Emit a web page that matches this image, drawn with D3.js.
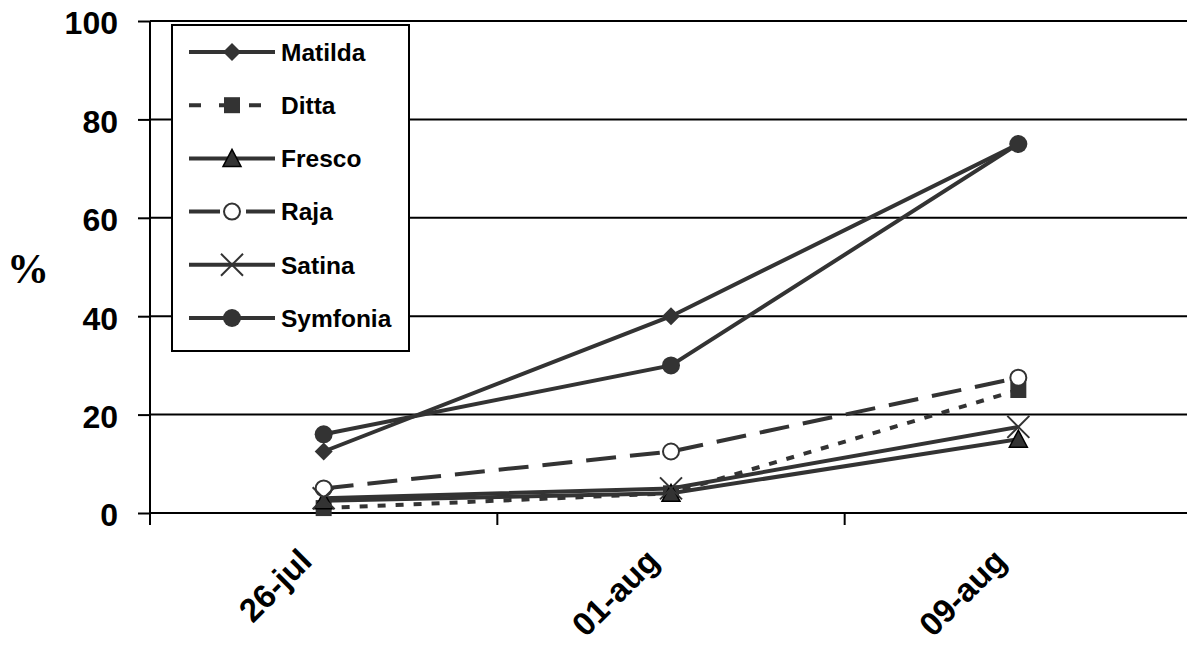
<!DOCTYPE html>
<html>
<head>
<meta charset="utf-8">
<script src="https://cdn.jsdelivr.net/npm/d3@7"></script>
<style>
  body { margin: 0; background: #fff; }
  svg { display: block; font-family: Arial, "Liberation Sans", sans-serif; }
</style>
</head>
<body>
<svg id="chart" width="1187" height="649"></svg>
<script>
// data
var dates = ['26-jul', '01-aug', '09-aug'];
var names = ['Matilda', 'Ditta', 'Fresco', 'Raja', 'Satina', 'Symfonia'];
var matilda = [12.5, 40, 75];
var ditta = [1, 4, 25];
var fresco = [2.5, 4, 15];
var raja = [5, 12.5, 27.5];
var satina = [3, 5, 17.5];
var symfonia = [16, 30, 75];
var yTicks = [0, 20, 40, 60, 80, 100];

var seriesVals = [matilda, ditta, fresco, raja, satina, symfonia];
var dashes = [null, '8,10', null, '30,14', null, null];
var legendDashes = [null, '12,18', null, '31,26', null, null];
var shapes = ['diamond', 'square', 'triangle', 'open', 'cross', 'circle'];

var ink = '#333';
var svg = d3.select('#chart');

var plotLeft = 150, plotRight = 1192, plotTop = 21, plotBottom = 513;

var x = d3.scaleBand().domain(dates).range([plotLeft, plotRight]);
var y = d3.scaleLinear().domain([0, 100]).range([plotBottom, plotTop]);

// gridlines
svg.append('g').selectAll('line')
  .data(yTicks.filter(function(d) { return d > 0; }))
  .enter().append('line')
  .attr('x1', plotLeft).attr('x2', plotRight)
  .attr('y1', function(d) { return y(d); })
  .attr('y2', function(d) { return y(d); })
  .attr('stroke', '#000').attr('stroke-width', 2);

// y axis
var yAxis = d3.axisLeft(y).tickValues(yTicks).tickSize(12).tickPadding(20);
var gy = svg.append('g').attr('transform', 'translate(' + plotLeft + ',0)').call(yAxis);
gy.select('.domain').attr('stroke', '#000').attr('stroke-width', 2)
  .attr('d', 'M0,' + plotTop + 'V' + plotBottom);
gy.selectAll('.tick line').attr('stroke', '#000').attr('stroke-width', 2);
gy.selectAll('.tick text')
  .attr('fill', '#000')
  .style('font-family', 'Arial, "Liberation Sans", sans-serif')
  .style('font-size', '32px').style('font-weight', 'bold')
  .attr('dy', '0.4em');

// x axis, ticks between categories
var bounds = dates.map(function(d) { return x(d); }).concat([plotRight]);
svg.append('line')
  .attr('x1', plotLeft).attr('x2', plotRight).attr('y1', plotBottom).attr('y2', plotBottom)
  .attr('stroke', '#000').attr('stroke-width', 2);
svg.append('g').selectAll('line').data(bounds).enter().append('line')
  .attr('x1', function(d) { return d; }).attr('x2', function(d) { return d; })
  .attr('y1', plotBottom).attr('y2', plotBottom + 12)
  .attr('stroke', '#000').attr('stroke-width', 2);

svg.append('g').selectAll('text').data(dates).enter().append('text')
  .attr('transform', function(d) {
    return 'translate(' + (x(d) + x.bandwidth() / 2 - 10) + ',' + (plotBottom + 50) + ') rotate(-45)';
  })
  .attr('text-anchor', 'end')
  .style('font-size', '33px').style('font-weight', 'bold')
  .text(function(d) { return d; });

// y title
svg.append('text')
  .attr('x', 28).attr('y', 283)
  .attr('text-anchor', 'middle')
  .style('font-family', '"Liberation Serif", "DejaVu Serif", serif')
  .style('font-size', '42px').style('font-weight', 'bold')
  .text('%');

function drawMarker(g, shape, cx, cy) {
  if (shape === 'diamond') {
    g.append('path').attr('d', 'M' + cx + ',' + (cy - 9) + 'L' + (cx + 9) + ',' + cy + 'L' + cx + ',' + (cy + 9) + 'L' + (cx - 9) + ',' + cy + 'Z')
      .attr('fill', ink);
  } else if (shape === 'square') {
    g.append('rect').attr('x', cx - 8).attr('y', cy - 8).attr('width', 16).attr('height', 16).attr('fill', ink);
  } else if (shape === 'triangle') {
    g.append('path').attr('d', 'M' + cx + ',' + (cy - 9) + 'L' + (cx + 9) + ',' + (cy + 8) + 'L' + (cx - 9) + ',' + (cy + 8) + 'Z')
      .attr('fill', ink).attr('stroke', '#000').attr('stroke-width', 1.5);
  } else if (shape === 'open') {
    g.append('circle').attr('cx', cx).attr('cy', cy).attr('r', 8).attr('fill', '#fff').attr('stroke', ink).attr('stroke-width', 2);
  } else if (shape === 'cross') {
    g.append('path').attr('d', 'M' + (cx - 11) + ',' + (cy - 11) + 'L' + (cx + 11) + ',' + (cy + 11) + 'M' + (cx + 11) + ',' + (cy - 11) + 'L' + (cx - 11) + ',' + (cy + 11))
      .attr('stroke', ink).attr('stroke-width', 2);
  } else {
    g.append('circle').attr('cx', cx).attr('cy', cy).attr('r', 9).attr('fill', ink);
  }
}

var line = d3.line()
  .x(function(d, i) { return x(dates[i]) + x.bandwidth() / 2; })
  .y(function(d) { return y(d); });

// lines, then markers
var plot = svg.append('g');
seriesVals.forEach(function(vals, s) {
  plot.append('path').attr('d', line(vals))
    .attr('fill', 'none').attr('stroke', ink).attr('stroke-width', 4)
    .attr('stroke-dasharray', dashes[s]);
});
seriesVals.forEach(function(vals, s) {
  vals.forEach(function(v, i) {
    drawMarker(plot, shapes[s], x(dates[i]) + x.bandwidth() / 2, y(v));
  });
});

// legend
var lg = svg.append('g');
lg.append('rect').attr('x', 172).attr('y', 25).attr('width', 237).attr('height', 326)
  .attr('fill', '#fff').attr('stroke', '#000').attr('stroke-width', 2);
names.forEach(function(n, i) {
  var ly = 52 + i * 53.2;
  lg.append('line').attr('x1', 189).attr('x2', 275).attr('y1', ly).attr('y2', ly)
    .attr('stroke', ink).attr('stroke-width', 4)
    .attr('stroke-dasharray', legendDashes[i]);
  drawMarker(lg, shapes[i], 232, ly);
  lg.append('text').attr('x', 281).attr('y', ly).attr('dy', '0.36em')
    .style('font-size', '24.5px').style('font-weight', 'bold')
    .text(n);
});
</script>
</body>
</html>
